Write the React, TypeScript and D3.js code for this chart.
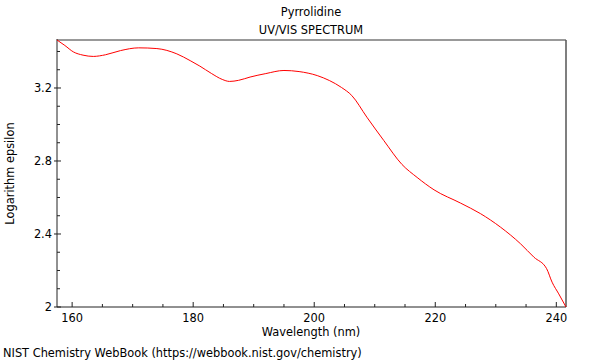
import React from "react";
import * as d3 from "d3";

const wavelengths = [157.5, 158.8, 160.2, 161.8, 163.5, 165.5, 168, 171, 174, 177.3, 179.5, 181.1, 183, 184.8, 186, 187.5, 189.4, 192, 195, 197.5, 200.5, 202.5, 204.5, 206.2, 208.7, 211.5, 214.5, 217, 219.8, 224.2, 227.5, 230.8, 234.1, 236.3, 238.4, 239.3, 240.4, 241.6];
const logEps = [3.463, 3.433, 3.398, 3.38, 3.373, 3.382, 3.405, 3.42, 3.416, 3.387, 3.35, 3.32, 3.28, 3.247, 3.236, 3.242, 3.26, 3.279, 3.296, 3.29, 3.268, 3.241, 3.203, 3.159, 3.04, 2.912, 2.781, 2.71, 2.642, 2.569, 2.511, 2.437, 2.346, 2.273, 2.21, 2.136, 2.072, 2.0];
const xTicks = [160, 180, 200, 220, 240];
const yTicks = [2, 2.4, 2.8, 3.2];
const xMinor = d3.range(160, 242, 5);
const yMinor = d3.range(2, 3.46, 0.1).map((v) => Math.round(v * 10) / 10);

const W = 600, H = 360;
const L = 57, R = 566, T = 40, B = 307;

export default function App() {
  const x = d3.scaleLinear().domain([157.5, 241.6]).range([L, R]);
  const y = d3.scaleLinear().domain([2, 3.463]).range([B, T]);
  const pts = wavelengths.map((w, i) => [w, logEps[i]] as [number, number]);
  const line = d3.line<[number, number]>().x((d) => x(d[0])).y((d) => y(d[1])).curve(d3.curveMonotoneX);
  const font = "DejaVu Sans, sans-serif";
  return (
    <svg width={W} height={H} style={{ position: "absolute", left: 0, top: 0 }} fontFamily={font} fontSize={11.4}>
      <rect x={0} y={0} width={W} height={H} fill="#fff" />
      <text x={311} y={16} textAnchor="middle">Pyrrolidine</text>
      <text x={311} y={34} textAnchor="middle">UV/VIS SPECTRUM</text>
      <line x1={L} x2={R} y1={T} y2={T} stroke="#999" strokeWidth={2} />
      <line x1={R} x2={R} y1={T} y2={B} stroke="#555" strokeWidth={1.5} />
      <line x1={L} x2={L} y1={T - 1} y2={B} stroke="#222" strokeWidth={1} />
      <line x1={L} x2={R} y1={B} y2={B} stroke="#222" strokeWidth={1} />
      {xMinor.map((t) => (
        <line key={"xm" + t} x1={x(t)} x2={x(t)} y1={B} y2={B - (t % 20 === 0 ? 5 : 3)} stroke="#222" />
      ))}
      {yMinor.map((t) => {
        const major = Math.abs((t * 10) % 4) < 0.01;
        return <line key={"ym" + t} x1={major ? L - 3 : L} x2={L + (major ? 4 : 3)} y1={y(t)} y2={y(t)} stroke="#222" />;
      })}
      {xTicks.map((t) => (
        <text key={"xt" + t} x={x(t)} y={B + 15} textAnchor="middle">{t}</text>
      ))}
      {yTicks.map((t) => (
        <text key={"yt" + t} x={L - 5} y={y(t) + 4} textAnchor="end">{t}</text>
      ))}
      <text x={311} y={336} textAnchor="middle">Wavelength (nm)</text>
      <text transform={`translate(14,${(T + B) / 2}) rotate(-90)`} textAnchor="middle">Logarithm epsilon</text>
      <text x={3} y={357}>NIST Chemistry WebBook (https://webbook.nist.gov/chemistry)</text>
      <path d={line(pts) || ""} fill="none" stroke="#ff0000" strokeWidth={1} />
    </svg>
  );
}
